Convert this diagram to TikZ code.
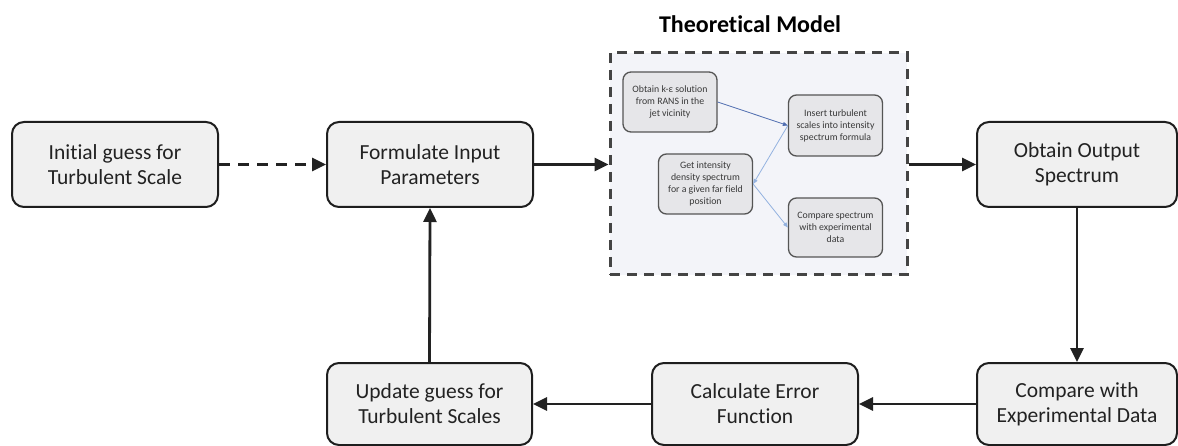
\documentclass[tikz,border=0pt]{standalone}
\usepackage{fontspec}
\setmainfont{Carlito}[Ligatures=NoCommon]
\usetikzlibrary{arrows.meta}
\definecolor{boxfill}{HTML}{F0F0F0}
\definecolor{boxline}{HTML}{1E1E1E}
\definecolor{contfill}{HTML}{F3F4F9}
\definecolor{contline}{HTML}{444444}
\definecolor{infill}{HTML}{E6E6E9}
\definecolor{inline}{HTML}{555555}
\definecolor{bluedark}{HTML}{4F6DB0}
\definecolor{bluelight}{HTML}{93B2E0}
\definecolor{txt}{HTML}{222222}
\tikzset{
  mainbox/.style={draw=boxline, fill=boxfill, line width=2pt, rounded corners=12pt,
    minimum width=206pt, minimum height=85pt, align=center, text=txt,
    font=\fontsize{21.5}{25}\selectfont, inner sep=0pt},
  innerbox/.style={draw=inline, fill=infill, line width=1.3pt, rounded corners=8pt,
    minimum width=94pt, minimum height=60pt, align=center, text=black!78,
    font=\fontsize{9.8}{12}\selectfont, inner sep=0pt},
  container/.style={draw=contline, fill=contfill, line width=3pt,
    dash pattern=on 10pt off 7pt, minimum width=297pt, minimum height=222pt, inner sep=0pt},
  mainarrow/.style={draw=txt, line width=2.8pt, -{Triangle[length=14pt,width=13pt]}},
  dasharrow/.style={mainarrow, dash pattern=on 11pt off 8pt},
  inarrowdark/.style={draw=bluedark, line width=0.8pt, -{Triangle[length=5pt,width=4pt]}},
  inarrowlight/.style={draw=bluelight, line width=0.8pt, -{Triangle[length=5pt,width=4pt]}},
  titletext/.style={font=\fontsize{24}{28}\selectfont\bfseries, text=black}
}
\begin{document}
\begin{tikzpicture}[x=1pt,y=-1pt]
\useasboundingbox (0,0) rectangle (1178,446);
% main boxes
\node[mainbox] (b1) at (115,164.5) {Initial guess for\\Turbulent Scale};
\node[mainbox] (b2) at (430,164.5) {Formulate Input\\Parameters};
\node[mainbox, minimum width=200pt] (b3) at (1077,164.5) {Obtain Output\\Spectrum};
\node[mainbox, minimum width=200pt, minimum height=82pt] (b4) at (1077,404) {Compare with\\Experimental Data};
\node[mainbox, minimum height=82pt] (b5) at (755,404) {Calculate Error\\Function};
\node[mainbox, minimum width=205pt, minimum height=82pt] (b6) at (429.5,404) {Update guess for\\Turbulent Scales};
% container
\node[container] (tm) at (758.5,164) {};
\node[titletext] (title) at (750,24) {Theoretical Model};
% inner boxes
\node[innerbox] (ia) at (670,102) {Obtain k-ε solution\\from RANS in the\\jet vicinity};
\node[innerbox, minimum height=61pt] (ib) at (835.5,125.5) {Insert turbulent\\scales into intensity\\spectrum formula};
\node[innerbox] (ic) at (705.5,184) {Get intensity\\density spectrum\\for a given far field\\position};
\node[innerbox, minimum height=59pt] (id) at (835.5,227.5) {Compare spectrum\\with experimental\\data};
% inner connectors
\draw[inarrowdark] (ia.east) -- (ib.west);
\draw[inarrowlight] (ib.west) -- (ic.east);
\draw[inarrowlight] (ic.east) -- (id.west);
% main connectors
\draw[dasharrow] (b1.east) -- (b2.west);
\draw[mainarrow] (b2.east) -- (tm.west |- b2.east);
\draw[mainarrow] (tm.east |- b3.west) -- (b3.west);
\draw[mainarrow] (b3.south) -- (b4.north);
\draw[mainarrow] (b4.west) -- (b5.east);
\draw[mainarrow] (b5.west) -- (b6.east);
\draw[mainarrow] (b6.north) -- (b2.south);
\end{tikzpicture}
\end{document}
